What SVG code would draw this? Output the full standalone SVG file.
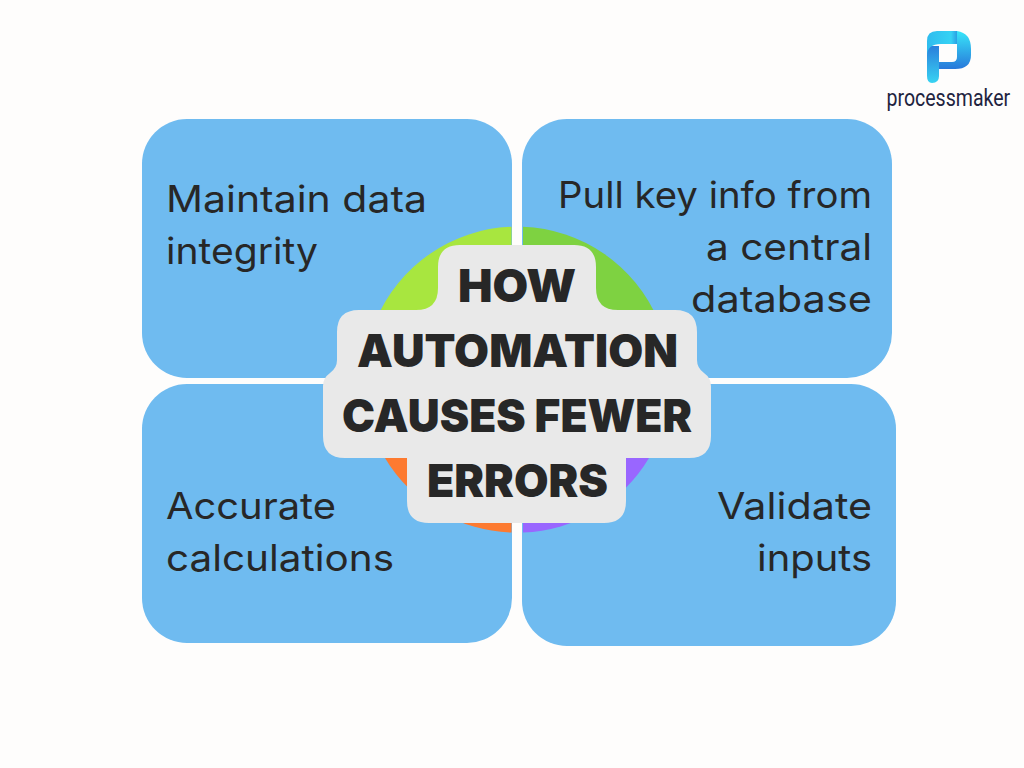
<svg xmlns="http://www.w3.org/2000/svg" width="1024" height="768" viewBox="0 0 1024 768">
  <style>
    .card { fill: #6fbbf0; }
    .body { font-family: "Inter", "Open Sans", sans-serif; font-size: 37px; font-weight: 400; fill: #272727; }
    .end { text-anchor: end; }
    .head { font-family: "Inter", "Liberation Sans", sans-serif; font-size: 45px; font-weight: 900; fill: #272727; text-anchor: middle; }
  </style>
  <defs>
    <linearGradient id="logoTop" x1="0" y1="0" x2="1" y2="0">
      <stop offset="0" stop-color="#2fbcee"/>
      <stop offset="0.8" stop-color="#36d2f4"/>
      <stop offset="1" stop-color="#2a9fe4"/>
    </linearGradient>
    <linearGradient id="logoStem" x1="0" y1="0" x2="0" y2="1">
      <stop offset="0" stop-color="#2a7fdc"/>
      <stop offset="1" stop-color="#38d3f2"/>
    </linearGradient>
    <linearGradient id="logoBowl" x1="0" y1="0" x2="0" y2="1">
      <stop offset="0" stop-color="#38e6f9"/>
      <stop offset="1" stop-color="#2878da"/>
    </linearGradient>
  </defs>

  <rect width="1024" height="768" fill="#fefdfc"/>

  <g id="card-data-integrity">
    <rect class="card" x="142" y="119" width="370" height="259" rx="45"/>
    <text class="body" x="166" y="212" textLength="261" lengthAdjust="spacingAndGlyphs">Maintain data</text>
    <text class="body" x="166" y="264" textLength="152" lengthAdjust="spacingAndGlyphs">integrity</text>
  </g>
  <g id="card-central-database">
    <rect class="card" x="522" y="119" width="370" height="259" rx="45"/>
    <text class="body end" x="872" y="208" textLength="314" lengthAdjust="spacingAndGlyphs">Pull key info from</text>
    <text class="body end" x="872" y="260" textLength="166" lengthAdjust="spacingAndGlyphs">a central</text>
    <text class="body end" x="872" y="312" textLength="181" lengthAdjust="spacingAndGlyphs">database</text>
  </g>
  <g id="card-calculations">
    <rect class="card" x="142" y="384" width="370" height="259" rx="45"/>
    <text class="body" x="166" y="519" textLength="170" lengthAdjust="spacingAndGlyphs">Accurate</text>
    <text class="body" x="166" y="571" textLength="228" lengthAdjust="spacingAndGlyphs">calculations</text>
  </g>
  <g id="card-validate">
    <rect class="card" x="522" y="384" width="374" height="262" rx="45"/>
    <text class="body end" x="872" y="519" textLength="155" lengthAdjust="spacingAndGlyphs">Validate</text>
    <text class="body end" x="872" y="571" textLength="115" lengthAdjust="spacingAndGlyphs">inputs</text>
  </g>

  <!-- Four quarter discs behind the central label -->
  <g id="centre-disc">
    <path d="M511.5 226.8A153 153 0 0 0 376 320L511.5 320Z" fill="#a8e63f"/>
    <path d="M523 226.8A153 153 0 0 1 658 320L523 320Z" fill="#7ed241"/>
    <path d="M385 458A153 153 0 0 0 511.5 532.6L511.5 458Z" fill="#fd7a30"/>
    <path d="M523 532.6A153 153 0 0 0 649 458L523 458Z" fill="#9966ff"/>
  </g>

  <g id="centre-label">
    <path fill="#e9e9e9" d="M460 245H574Q596 245 596 267V288Q596 310 618 310H675Q697 310 697 332V360Q697 368 704 373Q711 378 711 386V436Q711 458 689 458H626V501Q626 523 604 523H429Q407 523 407 501V458H345Q323 458 323 436V386Q323 378 330 373Q337 368 337 360V332Q337 310 359 310H416Q438 310 438 288V267Q438 245 460 245Z"/>
    <text class="head" x="517" y="302" textLength="118" lengthAdjust="spacingAndGlyphs">HOW</text>
    <text class="head" x="517.5" y="367" textLength="321" lengthAdjust="spacingAndGlyphs">AUTOMATION</text>
    <text class="head" x="517" y="432" textLength="350" lengthAdjust="spacingAndGlyphs">CAUSES FEWER</text>
    <text class="head" x="517.5" y="497" textLength="181" lengthAdjust="spacingAndGlyphs">ERRORS</text>
  </g>

  <g id="logo">
    <path d="M927 46H939V76Q939 83 932 83Q927 83 927 76Z" fill="url(#logoStem)"/>
    <path d="M937 31H957V44H941Q927 44 927 56V41Q927 31 937 31Z" fill="url(#logoTop)"/>
    <path d="M957 31Q971 33 971 49V55Q971 69 955 69H939V62H952Q957 62 957 57Z" fill="url(#logoBowl)"/>
    <text transform="translate(886.5 106) scale(0.85 1)" font-family="'Roboto','Liberation Sans',sans-serif" font-size="23" fill="#1f2440">processmaker</text>
  </g>
</svg>
